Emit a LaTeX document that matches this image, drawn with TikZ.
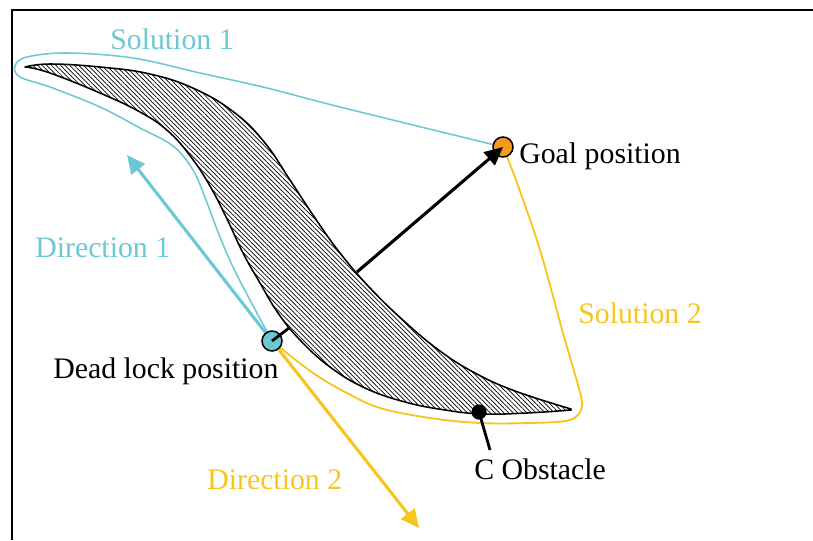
\documentclass[tikz,border=0pt]{standalone}
\usepackage{fontspec}
\setmainfont{Liberation Serif}
\usepackage{xcolor}
\definecolor{solone}{HTML}{6CC8D4}
\definecolor{soltwo}{HTML}{F6C51E}
\definecolor{goalfill}{HTML}{F39A1F}
\usepackage{tikz}
\usetikzlibrary{arrows.meta, patterns.meta, backgrounds}

\begin{document}
\begin{tikzpicture}[x=0.025cm, y=-0.025cm, font=\fontsize{21.2}{25}\selectfont,
  posdot/.style={circle, draw, line width=1.1pt, minimum size=0.5cm, inner sep=0pt},
  txt/.style={anchor=base west, inner sep=0pt},
  curve/.style={line width=1.1pt, line join=round},
  dirarrow/.style={line width=2.2pt, -{Triangle[length=13pt, width=12pt]}}]
  \useasboundingbox (0,0) rectangle (813,540);
  \draw[line width=1.8pt] (12,540) -- (12,10) -- (813,10);

  % positions
  \node[posdot, fill=goalfill] (goal) at (503,147) {};
  \node[posdot, fill=solone] (deadlock) at (272,341) {};
  \node[circle, fill=black, minimum size=0.38cm, inner sep=0pt] (cobst) at (479,412) {};
  \coordinate (d1tip) at (127,155);
  \coordinate (d2tip) at (419,528);
  \coordinate (pushstart) at (357,272);
  \coordinate (dlkedge) at (289,328);
  \coordinate (cobsttail) at (490,450);

  % labels
  \node[txt, solone] (sol1lbl) at (110,49) {Solution 1};
  \node[txt, solone] (dir1lbl) at (35,257) {Direction 1};
  \node[txt] (goallbl) at (519,163) {Goal position};
  \node[txt, soltwo] (sol2lbl) at (578,323) {Solution 2};
  \node[txt] (dlklbl) at (53,378) {Dead lock position};
  \node[txt, soltwo] (dir2lbl) at (207,489) {Direction 2};
  \node[txt] (cobstlbl) at (474,479) {C Obstacle};

  \begin{scope}[on background layer]
    % C obstacle
    \draw[line width=1.1pt, line join=round,
      pattern={Lines[angle=-45, distance=2.3pt, line width=0.5pt]}]
      plot[smooth, tension=0.7] coordinates {(25,67) (50,64) (100,67) (150,74)
        (195,89) (235,113) (265,143) (290,180) (315,218) (340,253)
        (370,288) (405,322) (440,351) (475,373) (515,391) (571,409)}
      -- plot[smooth, tension=0.7] coordinates {(571,410) (527,413) (483,414)
        (445,410) (405,402) (365,388) (330,367) (300,340) (278,313) (260,283)
        (243,253) (227,219) (210,186) (191,157) (168,131) (140,112) (100,93)
        (50,73) (26,67)} -- cycle;

    % solutions
    \draw[curve, solone] plot[smooth, tension=0.6] coordinates {(deadlock)
      (250,300) (232,265) (218,232) (206,200) (193,170) (173,146) (140,128)
      (100,107) (50,87) (20,77) (15,66) (27,57) (67,53) (133,58) (200,73)
      (267,88) (340,107) (goal)};
    \draw[curve, soltwo, line width=1.3pt] plot[smooth, tension=0.6] coordinates {(deadlock)
      (313,373) (347,393) (380,408) (430,418) (480,423) (530,423) (565,421)
      (578,415) (582,403) (578,385) (563,333) (540,250) (517,183) (goal)};

    % directions
    \draw[dirarrow, solone] (deadlock) -- (d1tip);
    \draw[dirarrow, soltwo] (deadlock) -- (d2tip);
  \end{scope}

  \draw[dirarrow, black] (pushstart) -- (goal.center);
  \draw[line width=2pt] (deadlock.center) -- (dlkedge);
  \draw[line width=2pt] (cobst.center) -- (cobsttail);
\end{tikzpicture}
\end{document}
